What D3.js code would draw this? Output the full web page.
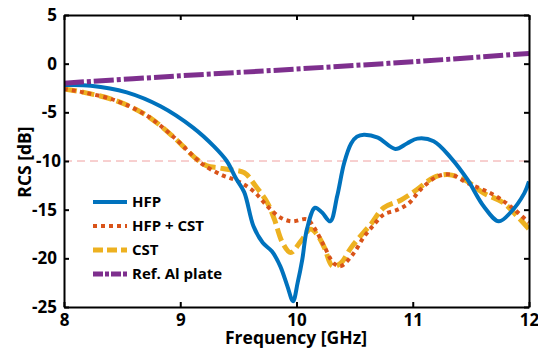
<!DOCTYPE html>
<html>
<head>
<meta charset="utf-8">
<script src="https://cdn.jsdelivr.net/npm/d3@7"></script>
<style>
  body { margin: 0; background: #fff; }
  svg text { font-family: "Open Sans", Lato, sans-serif; font-weight: 700; fill: #000; }
</style>
</head>
<body>
<div id="chart"></div>
<script>
// RCS vs frequency
const hfpFreq = [8, 8.23, 8.54, 8.83, 9.11, 9.29, 9.4, 9.48, 9.55, 9.63, 9.71, 9.79, 9.86, 9.92, 9.97, 10.01, 10.05, 10.09, 10.16, 10.22, 10.29, 10.35, 10.41, 10.47, 10.52, 10.58, 10.7, 10.85, 10.95, 11.04, 11.18, 11.33, 11.47, 11.61, 11.74, 11.84, 11.96, 12];
const hfpRcs = [-2.2, -2.26, -2.95, -4.38, -6.57, -8.5, -10, -11.8, -13.2, -16.7, -18.4, -19.3, -20.8, -22.8, -24.4, -22.5, -20.1, -17, -14.8, -15.3, -16.2, -13.6, -10.2, -8.2, -7.5, -7.3, -7.6, -8.76, -8.2, -7.7, -7.97, -9.7, -11.9, -14.65, -16.2, -15.3, -13.3, -12.1];

const hfpCstFreq = [8, 8.17, 8.44, 8.7, 8.93, 9.13, 9.2, 9.35, 9.5, 9.63, 9.75, 9.86, 9.96, 10.09, 10.16, 10.24, 10.32, 10.38, 10.49, 10.58, 10.67, 10.75, 10.87, 10.97, 11.07, 11.21, 11.33, 11.47, 11.7, 11.84, 11.97, 12];
const hfpCstRcs = [-2.6, -2.95, -3.77, -5.24, -7.4, -9.7, -10.4, -11.4, -12.1, -13.1, -14.65, -15.8, -16.2, -16, -17, -18.8, -20.5, -20.8, -19.5, -17.8, -16.5, -15.5, -15, -14.3, -12.9, -11.6, -11.4, -12.25, -13.5, -14.65, -16, -16.3];

const cstFreq = [8, 8.17, 8.44, 8.7, 8.93, 9.13, 9.23, 9.33, 9.43, 9.55, 9.65, 9.75, 9.81, 9.88, 9.95, 10.04, 10.12, 10.18, 10.24, 10.31, 10.38, 10.47, 10.58, 10.64, 10.75, 10.9, 11.04, 11.18, 11.3, 11.44, 11.61, 11.78, 11.9, 12];
const cstRcs = [-2.6, -2.95, -3.77, -5.24, -7.4, -9.7, -10.5, -10.7, -10.9, -11.2, -12.6, -14.3, -16, -18.4, -19.4, -18.2, -17, -17.6, -18.9, -20.8, -20.5, -18.9, -17.3, -16.5, -14.8, -14, -12.9, -11.7, -11.4, -11.9, -13.3, -14.3, -15.7, -17];

const plateFreq = [8, 9, 10, 11, 12];
const plateRcs = [-2, -1.25, -0.55, 0.2, 1.05];

const xTicks = [8, 9, 10, 11, 12];
const yTicks = [-25, -20, -15, -10, -5, 0, 5];
const refLevel = -10;

const seriesNames = ["HFP", "HFP + CST", "CST", "Ref. Al plate"];

const W = 538, H = 349;
const margin = { top: 15, right: 9, bottom: 42, left: 64 };
const width = W - margin.left - margin.right;
const height = H - margin.top - margin.bottom;

const svg = d3.select("#chart").append("svg")
  .attr("width", W).attr("height", H);
const g = svg.append("g").attr("transform", `translate(${margin.left},${margin.top})`);

const x = d3.scaleLinear().domain([8, 12]).range([0, width]);
const y = d3.scaleLinear().domain([-25, 5]).range([height, 0]);

const styles = [
  { color: "#0072BD", w: 4, dash: null, legendDash: null },
  { color: "#D95319", w: 4, dash: "4,4", legendDash: "4,4" },
  { color: "#EDB120", w: 5, dash: "13,5", legendDash: "10,4" },
  { color: "#7E2F8E", w: 5, dash: "20,3,4,3", legendDash: "10,2,4,2" }
];

const series = [
  { f: hfpFreq, v: hfpRcs },
  { f: hfpCstFreq, v: hfpCstRcs },
  { f: cstFreq, v: cstRcs },
  { f: plateFreq, v: plateRcs }
];

// reference level
g.append("line")
  .attr("x1", x(8)).attr("x2", x(12))
  .attr("y1", y(refLevel)).attr("y2", y(refLevel))
  .attr("stroke", "#f0a0a0").attr("stroke-width", 1)
  .attr("stroke-dasharray", "8,5");

g.append("clipPath").attr("id", "clip")
  .append("rect").attr("width", width).attr("height", height);

const line = d3.line().curve(d3.curveCatmullRom.alpha(0.5))
  .x(d => x(d[0])).y(d => y(d[1]));

// draw order: CST under, dotted above, then blue, then plate
[2, 1, 0, 3].forEach(i => {
  const s = series[i], st = styles[i];
  g.append("path")
    .datum(d3.zip(s.f, s.v))
    .attr("clip-path", "url(#clip)")
    .attr("fill", "none")
    .attr("stroke", st.color)
    .attr("stroke-width", st.w)
    .attr("stroke-dasharray", st.dash)
    .attr("d", line);
});

// axes, ticks inward and mirrored on top/right
const tickLen = 5;
const xAxis = g.append("g").attr("transform", `translate(0,${height})`)
  .call(d3.axisBottom(x).tickValues(xTicks).tickSizeInner(-tickLen).tickSizeOuter(0).tickPadding(7).tickFormat(d3.format("d")));
const xTop = g.append("g")
  .call(d3.axisTop(x).tickValues(xTicks).tickSizeInner(-tickLen).tickSizeOuter(0).tickFormat(""));
const yAxis = g.append("g")
  .call(d3.axisLeft(y).tickValues(yTicks).tickSizeInner(-tickLen).tickSizeOuter(0).tickPadding(7).tickFormat(d3.format("d")));
const yRight = g.append("g").attr("transform", `translate(${width},0)`)
  .call(d3.axisRight(y).tickValues(yTicks).tickSizeInner(-tickLen).tickSizeOuter(0).tickFormat(""));

[xAxis, xTop, yAxis, yRight].forEach(a => {
  a.select(".domain").attr("stroke", "#000").attr("stroke-width", 2);
  a.selectAll(".tick line").attr("stroke", "#000").attr("stroke-width", 2);
  a.selectAll(".tick text").style("font-size", "17px");
});
yAxis.selectAll(".tick text")
  .text(d => d < 0 ? "-" + Math.abs(d) : d)
  .attr("x", d => d === refLevel ? -3 : -7);

// axis titles
svg.append("text")
  .attr("x", 296).attr("y", 344)
  .attr("text-anchor", "middle")
  .style("font-size", "17.5px")
  .text("Frequency [GHz]");
svg.append("text")
  .attr("transform", `translate(31,162) rotate(-90)`)
  .attr("text-anchor", "middle")
  .style("font-size", "17.5px")
  .text("RCS [dB]");

// legend
const legend = g.append("g").attr("transform", "translate(29,187)");
seriesNames.forEach((name, i) => {
  const row = legend.append("g").attr("transform", `translate(0,${i * 24})`);
  row.append("line")
    .attr("x1", 0).attr("x2", 34)
    .attr("stroke", styles[i].color)
    .attr("stroke-width", styles[i].w)
    .attr("stroke-dasharray", styles[i].legendDash);
  row.append("text")
    .attr("x", 39).attr("dy", "0.35em")
    .style("font-size", "15px")
    .text(name);
});
</script>
</body>
</html>
